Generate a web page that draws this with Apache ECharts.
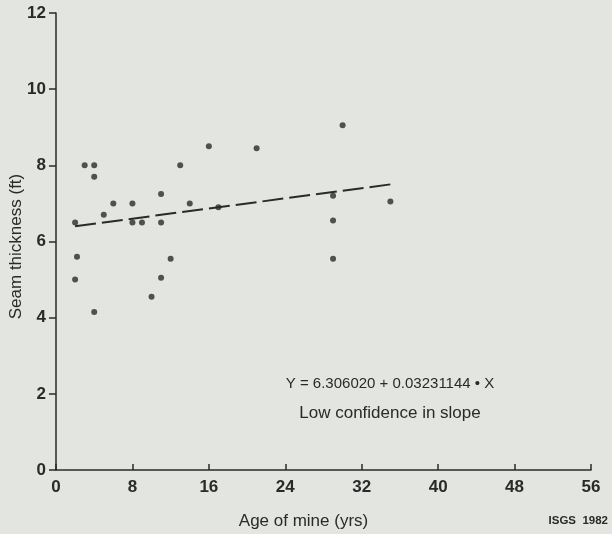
<!DOCTYPE html>
<html>
<head>
<meta charset="utf-8">
<script src="https://cdn.jsdelivr.net/npm/echarts@6/dist/echarts.min.js"></script>
<style>
html,body{margin:0;padding:0;background:#e3e5e0;}
#chart{width:612px;height:534px;}
</style>
</head>
<body>
<div id="chart"></div>
<script>
// Data
const ageOfMine = [3, 4, 4, 16, 21, 13, 11, 6, 8, 14, 5, 17, 2, 8, 9, 11, 2.2, 12, 2, 11, 10, 4, 30, 29, 35, 29, 29];
const seamThickness = [8.0, 8.0, 7.7, 8.5, 8.45, 8.0, 7.25, 7.0, 7.0, 7.0, 6.7, 6.9, 6.5, 6.5, 6.5, 6.5, 5.6, 5.55, 5.0, 5.05, 4.55, 4.15, 9.05, 7.2, 7.05, 6.55, 5.55];
const trendAge = [2, 35];
const trendThickness = [6.4, 7.5];
const xTickValues = [0, 8, 16, 24, 32, 40, 48, 56];
const yTickValues = [0, 2, 4, 6, 8, 10, 12];
const xAxisTitle = 'Age of mine (yrs)';
const yAxisTitle = 'Seam thickness (ft)';
const equationText = 'Y = 6.306020 + 0.03231144 \u2022 X';
const noteText = 'Low confidence in slope';
const creditText = 'ISGS  1982';

const ink = '#2a2a2a';
const font = '"Liberation Sans", Arial, Helvetica, sans-serif';

const points = ageOfMine.map((x, i) => [x, seamThickness[i]]);
const trend = trendAge.map((x, i) => [x, trendThickness[i]]);

const chart = echarts.init(document.getElementById('chart'), null, {renderer: 'canvas'});
chart.setOption({
  backgroundColor: '#e3e5e0',
  animation: false,
  grid: {left: 56, right: 21, top: 13, bottom: 64, containLabel: false, outerBoundsMode: 'none'},
  xAxis: {
    type: 'value',
    min: xTickValues[0],
    max: xTickValues[xTickValues.length - 1],
    interval: xTickValues[1] - xTickValues[0],
    name: xAxisTitle,
    nameLocation: 'middle',
    nameGap: 43,
    nameTextStyle: {color: ink, fontSize: 17, fontFamily: font, padding: [0, 40, 0, 0]},
    axisLine: {show: true, lineStyle: {color: ink, width: 1.5}},
    axisTick: {show: true, inside: true, length: 6, lineStyle: {color: ink, width: 1.5}},
    axisLabel: {color: ink, fontSize: 17, fontWeight: 'bold', fontFamily: font, margin: 9},
    splitLine: {show: false}
  },
  yAxis: {
    type: 'value',
    min: yTickValues[0],
    max: yTickValues[yTickValues.length - 1],
    interval: yTickValues[1] - yTickValues[0],
    name: yAxisTitle,
    nameLocation: 'middle',
    nameGap: 31,
    nameMoveOverlap: false,
    nameTextStyle: {color: ink, fontSize: 17, fontFamily: font, padding: [0, 10, 0, 0]},
    axisLine: {show: true, lineStyle: {color: ink, width: 1.5}},
    axisTick: {show: true, inside: false, length: 7, lineStyle: {color: ink, width: 1.5}},
    axisLabel: {color: ink, fontSize: 17, fontWeight: 'bold', fontFamily: font, margin: 10},
    splitLine: {show: false}
  },
  series: [
    {
      type: 'line',
      data: trend,
      showSymbol: false,
      symbol: 'none',
      lineStyle: {color: ink, width: 2, type: [21, 6]},
      silent: true,
      z: 2
    },
    {
      type: 'scatter',
      data: points,
      symbol: 'circle',
      symbolSize: 6,
      itemStyle: {color: ink},
      z: 3
    }
  ],
  graphic: [
    {type: 'text', x: 390, y: 384,
     style: {text: equationText, fill: ink, font: '15px ' + font, textAlign: 'center', textVerticalAlign: 'middle'}},
    {type: 'text', x: 390, y: 413,
     style: {text: noteText, fill: ink, font: '17px ' + font, textAlign: 'center', textVerticalAlign: 'middle'}},
    {type: 'text', x: 608, y: 521,
     style: {text: creditText, fill: ink, font: 'bold 11.5px ' + font, textAlign: 'right', textVerticalAlign: 'middle'}}
  ]
});
</script>
</body>
</html>
